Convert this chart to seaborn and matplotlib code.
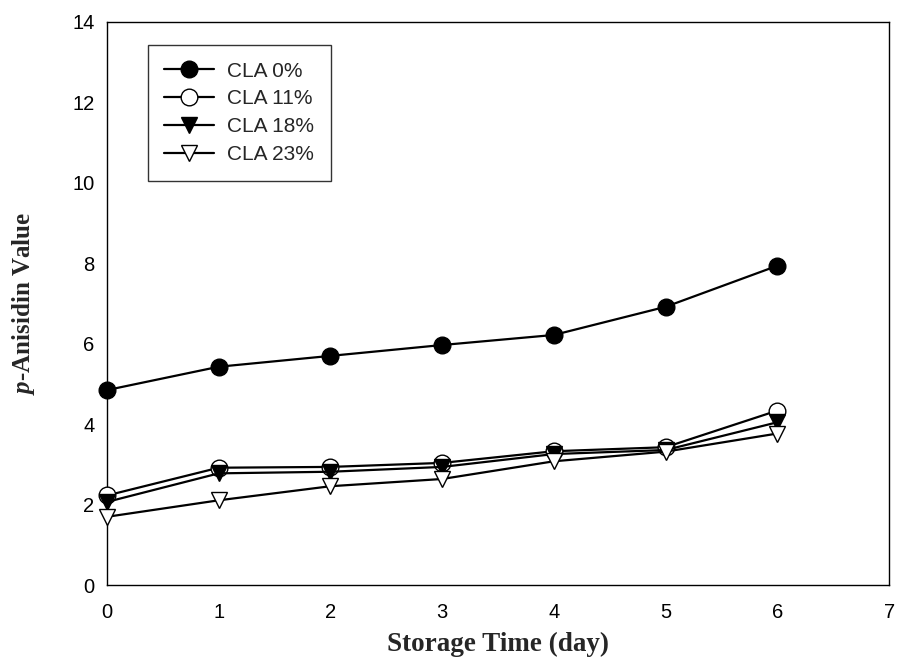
import matplotlib
matplotlib.use("Agg")
import matplotlib.pyplot as plt
import seaborn as sns
import pandas as pd

# Storage days and p-anisidine values for each CLA level
days = [0, 1, 2, 3, 4, 5, 6]
cla_0 = [4.85, 5.43, 5.70, 5.97, 6.22, 6.92, 7.94]
cla_11 = [2.23, 2.92, 2.94, 3.04, 3.33, 3.43, 4.34]
cla_18 = [2.07, 2.78, 2.82, 2.94, 3.26, 3.36, 4.05]
cla_23 = [1.70, 2.11, 2.46, 2.64, 3.08, 3.32, 3.77]
labels = ["CLA 0%", "CLA 11%", "CLA 18%", "CLA 23%"]
series = [cla_0, cla_11, cla_18, cla_23]

x_ticks = [0, 1, 2, 3, 4, 5, 6, 7]
y_ticks = [0, 2, 4, 6, 8, 10, 12, 14]

sns.set_theme(style="white")
plt.rcParams["font.family"] = ["Liberation Sans", "DejaVu Sans"]
plt.rcParams["mathtext.fontset"] = "custom"
plt.rcParams["mathtext.it"] = "Liberation Serif:italic:bold"
plt.rcParams["mathtext.rm"] = "Liberation Serif:bold"

df = pd.DataFrame({
    "day": days * len(labels),
    "value": [v for s in series for v in s],
    "group": [lab for lab in labels for _ in days],
})

fig = plt.figure(figsize=(8.99, 6.65), dpi=100)
ax = fig.add_axes([0.119, 0.120, 0.870, 0.847])

styles = {
    "CLA 0%": dict(marker="o", mfc="black"),
    "CLA 11%": dict(marker="o", mfc="white"),
    "CLA 18%": dict(marker="v", mfc="black"),
    "CLA 23%": dict(marker="v", mfc="white"),
}

for lab in labels:
    sub = df[df["group"] == lab]
    st = styles[lab]
    sns.lineplot(data=sub, x="day", y="value", ax=ax, color="black",
                 linewidth=1.6, marker=st["marker"], markersize=12,
                 markerfacecolor=st["mfc"], markeredgecolor="black",
                 markeredgewidth=1.0, label=lab, zorder=3, clip_on=False)

ax.set_xlim(0, 7)
ax.set_ylim(0, 14)
ax.set_xticks(x_ticks)
ax.set_yticks(y_ticks)
ax.tick_params(axis="both", direction="in", length=6, width=1, colors="black",
               labelsize=14.5)
ax.tick_params(axis="y", pad=9)
ax.tick_params(axis="x", pad=13)
for sp in ax.spines.values():
    sp.set_color("black")
    sp.set_linewidth(1.0)

ax.set_xlabel("Storage Time (day)", fontfamily="Liberation Serif",
              fontweight="bold", fontsize=19.5, labelpad=7)
ax.set_ylabel(r"$\mathit{p}$-Anisidin Value", fontfamily="Liberation Serif",
              fontweight="bold", fontsize=18, labelpad=25)

leg = ax.legend(loc="upper left", bbox_to_anchor=(0.052, 0.959),
                borderaxespad=0, frameon=True, fancybox=False,
                edgecolor="black", fontsize=15, handlelength=2.4,
                labelspacing=0.42, borderpad=0.8, handletextpad=0.63)
leg.get_frame().set_linewidth(1.0)

fig.savefig("out.png", dpi=100)
